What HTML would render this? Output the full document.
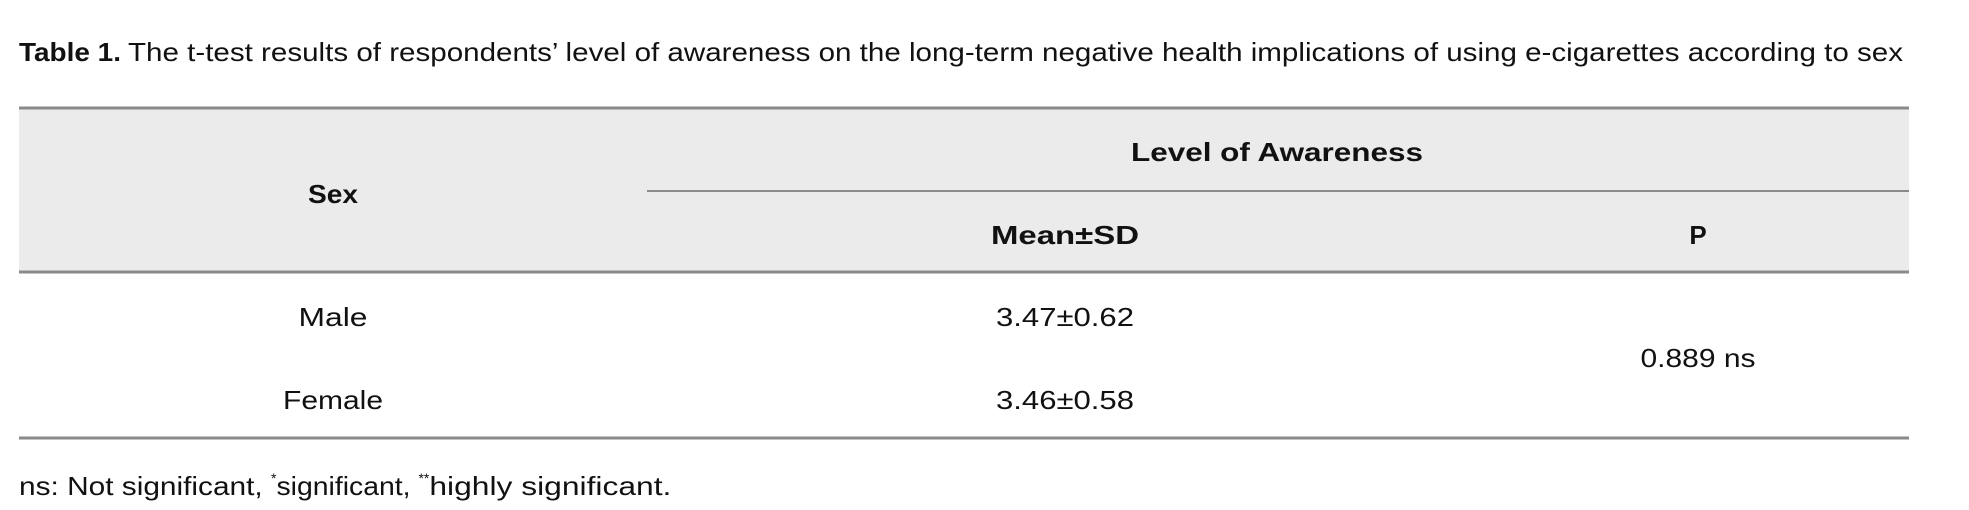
<!DOCTYPE html>
<html><head><meta charset="utf-8"><style>
html,body{margin:0;padding:0;background:#fff;}
svg{display:block;font-family:"Liberation Sans",sans-serif;}
</style></head><body>
<svg width="1969" height="510" viewBox="0 0 1969 510">
<text x="19" y="61" font-size="26" fill="#111"><tspan font-weight="bold" textLength="102" lengthAdjust="spacingAndGlyphs">Table 1.</tspan><tspan x="128" textLength="1775" lengthAdjust="spacingAndGlyphs">The t-test results of respondents’ level of awareness on the long-term negative health implications of using e-cigarettes according to sex</tspan></text>
<rect x="19" y="108" width="1890" height="164" fill="#ebebeb"/>
<line x1="19" y1="108" x2="1909" y2="108" stroke="#8a8a8a" stroke-width="3"/>
<line x1="647" y1="191" x2="1909" y2="191" stroke="#8a8a8a" stroke-width="2"/>
<line x1="19" y1="272" x2="1909" y2="272" stroke="#8a8a8a" stroke-width="3"/>
<line x1="19" y1="438" x2="1909" y2="438" stroke="#8a8a8a" stroke-width="3"/>
<g font-size="26" fill="#111" text-anchor="middle">
<text x="1277" y="161" font-weight="bold" textLength="292" lengthAdjust="spacingAndGlyphs">Level of Awareness</text>
<text x="333" y="203" font-weight="bold" textLength="50" lengthAdjust="spacingAndGlyphs">Sex</text>
<text x="1065" y="244" font-weight="bold" textLength="148" lengthAdjust="spacingAndGlyphs">Mean±SD</text>
<text x="1698" y="244" font-weight="bold">P</text>
<text x="333" y="326" textLength="69" lengthAdjust="spacingAndGlyphs">Male</text>
<text x="333" y="409" textLength="100" lengthAdjust="spacingAndGlyphs">Female</text>
<text x="1065" y="326" textLength="138" lengthAdjust="spacingAndGlyphs">3.47±0.62</text>
<text x="1065" y="409" textLength="138" lengthAdjust="spacingAndGlyphs">3.46±0.58</text>
<text x="1698" y="367" textLength="115" lengthAdjust="spacingAndGlyphs">0.889 ns</text>
</g>
<text x="19" y="495" font-size="26" fill="#111"><tspan textLength="252" lengthAdjust="spacingAndGlyphs">ns: Not significant, </tspan><tspan font-size="14" dy="-12">*</tspan><tspan dy="12" textLength="142" lengthAdjust="spacingAndGlyphs">significant, </tspan><tspan font-size="14" dy="-12">**</tspan><tspan dy="12" textLength="242" lengthAdjust="spacingAndGlyphs">highly significant.</tspan></text>
</svg>
</body></html>
